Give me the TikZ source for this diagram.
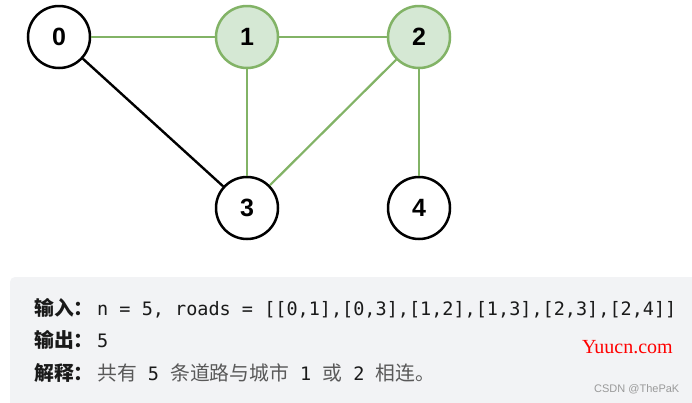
\documentclass[tikz,border=0pt]{standalone}
\usepackage{fontspec}
\setmainfont{Liberation Sans}
\newfontfamily\cjk{Noto Sans CJK SC}
\newfontfamily\monof{DejaVu Sans Mono}
\newfontfamily\serifY{Liberation Serif}
\definecolor{ggreen}{HTML}{82B366}
\definecolor{lgreen}{HTML}{D5E8D4}
\definecolor{boxbg}{HTML}{F2F3F5}
\definecolor{ctext}{HTML}{1A1A1A}
\definecolor{cgray}{HTML}{595959}
\definecolor{wm}{HTML}{9A9A9A}
\newcommand{\cjksz}{\fontsize{19.8}{19.8}\selectfont}
\newcommand{\monosz}{\fontsize{18.5}{18.5}\selectfont}
\tikzset{
  city/.style={circle, draw=black, line width=2.5pt, minimum size=62pt, inner sep=0pt, fill=white,
    font=\fontsize{25}{25}\selectfont\bfseries},
  hot/.style={city, draw=ggreen, fill=lgreen},
  gedge/.style={draw=ggreen, line width=2.2pt},
  bedge/.style={draw=black, line width=2.4pt},
  txt/.style={anchor=base west, inner sep=0pt, text=ctext}
}
\begin{document}
\begin{tikzpicture}[x=1pt,y=-1pt]
\useasboundingbox (0,0) rectangle (692,402);
\begin{scope}
\clip (0,0) rectangle (692,402);
\fill[boxbg, rounded corners=5pt] (10,277) rectangle (710,420);
\end{scope}
% nodes
\node[city] (n0) at (59,37) {0};
\node[hot]  (n1) at (247,37) {1};
\node[hot]  (n2) at (419,37) {2};
\node[city] (n3) at (247,208) {3};
\node[city] (n4) at (419,208) {4};
% edges
\draw[gedge] (n0) -- (n1);
\draw[gedge] (n1) -- (n2);
\draw[gedge] (n1) -- (n3);
\draw[gedge] (n2) -- (n3);
\draw[gedge] (n2) -- (n4);
\draw[bedge] (n0) -- (n3);
% text
\node[txt] (l1a) at (34,315) {\cjk\cjksz\bfseries 输入：};
\node[txt] (l1b) at (97,315) {\monof\monosz n = 5, roads = [[0,1],[0,3],[1,2],[1,3],[2,3],[2,4]]};
\node[txt] (l2a) at (34,347) {\cjk\cjksz\bfseries 输出：};
\node[txt] (l2b) at (97,347) {\monof\monosz 5};
\node[txt] (l3a) at (34,380) {\cjk\cjksz\bfseries 解释：};
\node[txt] (l3b) at (97,380) {{\cjk\cjksz\color{cgray}共有}{\monof\monosz\ 5\ }{\cjk\cjksz\color{cgray}条道路与城市}{\monof\monosz\ 1\ }{\cjk\cjksz\color{cgray}或}{\monof\monosz\ 2\ }{\cjk\cjksz\color{cgray}相连。}};
\node[anchor=base west, inner sep=0pt, text=red, font=\serifY\fontsize{20}{20}\selectfont] (wm1) at (582,353) {Yuucn.com};
\node[anchor=base west, inner sep=0pt, text=wm, font=\fontsize{11}{11}\selectfont] (wm2) at (594,392) {CSDN @ThePaK};
\end{tikzpicture}
\end{document}
